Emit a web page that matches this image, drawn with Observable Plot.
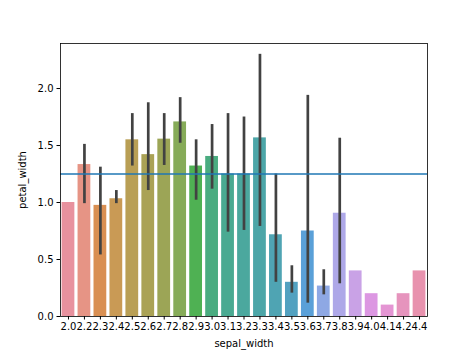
<!DOCTYPE html>
<html>
<head>
<meta charset="utf-8">
<script src="https://cdn.jsdelivr.net/npm/d3@7"></script>
<script src="https://cdn.jsdelivr.net/npm/@observablehq/plot@0.6"></script>
<style>
  html, body { margin: 0; padding: 0; background: #fff; }
  #chart svg { display: block; }
</style>
</head>
<body>
<div id="chart"></div>
<script>
const categories = ["2.0","2.2","2.3","2.4","2.5","2.6","2.7","2.8","2.9","3.0","3.1","3.2","3.3","3.4","3.5","3.6","3.7","3.8","3.9","4.0","4.1","4.2","4.4"];
const means  = [1.0, 1.333, 0.975, 1.033, 1.55, 1.42, 1.556, 1.707, 1.32, 1.404, 1.25, 1.25, 1.567, 0.717, 0.30, 0.75, 0.267, 0.906, 0.40, 0.20, 0.10, 0.20, 0.40];
const ciLow  = [null, 0.99, 0.54, 0.99, 1.32, 1.105, 1.325, 1.52, 1.02, 1.117, 0.74, 0.755, 0.79, 0.30, 0.205, 0.117, 0.19, 0.287, null, null, null, null, null];
const ciHigh = [null, 1.51, 1.31, 1.105, 1.78, 1.875, 1.78, 1.92, 1.55, 1.684, 1.78, 1.75, 2.30, 1.25, 0.445, 1.94, 0.41, 1.564, null, null, null, null, null];
const barColors = ["#e8919e","#e69485","#d98f52","#c99a55","#b99f55","#aaa255","#9ca556","#86ab58","#4fb153","#4aac80","#4aaa92","#4ba89e","#4ca6a8","#4fa4b3","#52a1c0","#5aa0d8","#8ea8e4","#aea8e8","#c9a2e6","#dc97e2","#e495d3","#e694bd","#e892ae"];
const refLine = 1.25;
const yTicks = [0, 0.5, 1.0, 1.5, 2.0];

const data = categories.map((c, i) => ({cat: c, mean: means[i], lo: ciLow[i], hi: ciHigh[i], color: barColors[i]}));
const errData = data.filter(d => d.lo != null && d.hi != null);

const chart = Plot.plot({
  width: 474,
  height: 355,
  marginLeft: 60,
  marginRight: 47,
  marginTop: 43,
  marginBottom: 39,
  style: {fontFamily: "DejaVu Sans", fontSize: "10px", color: "#000", background: "#fff"},
  x: {type: "band", domain: categories, paddingInner: 0.2, paddingOuter: 0.1, round: false},
  y: {domain: [0, 2.395]},
  marks: [
    Plot.barY(data, {x: "cat", y: "mean", fill: "color"}),
    Plot.ruleX(errData, {x: "cat", y1: "lo", y2: "hi", stroke: "#424242", strokeWidth: 2.7}),
    Plot.ruleY([refLine], {stroke: "#1f77b4", strokeWidth: 1.5}),
    Plot.frame({stroke: "#000", strokeWidth: 0.8}),
    Plot.axisY({ticks: yTicks, tickFormat: d3.format(".1f"), tickSize: 3.5, tickPadding: 3.5, label: "petal_width", labelAnchor: "center", labelArrow: "none", labelOffset: 42, fontSize: 10}),
    Plot.axisX({tickSize: 3.5, tickPadding: 3, label: "sepal_width", labelAnchor: "center", labelArrow: "none", labelOffset: 30, fontSize: 10})
  ]
});
document.getElementById("chart").appendChild(chart);
</script>
</body>
</html>
